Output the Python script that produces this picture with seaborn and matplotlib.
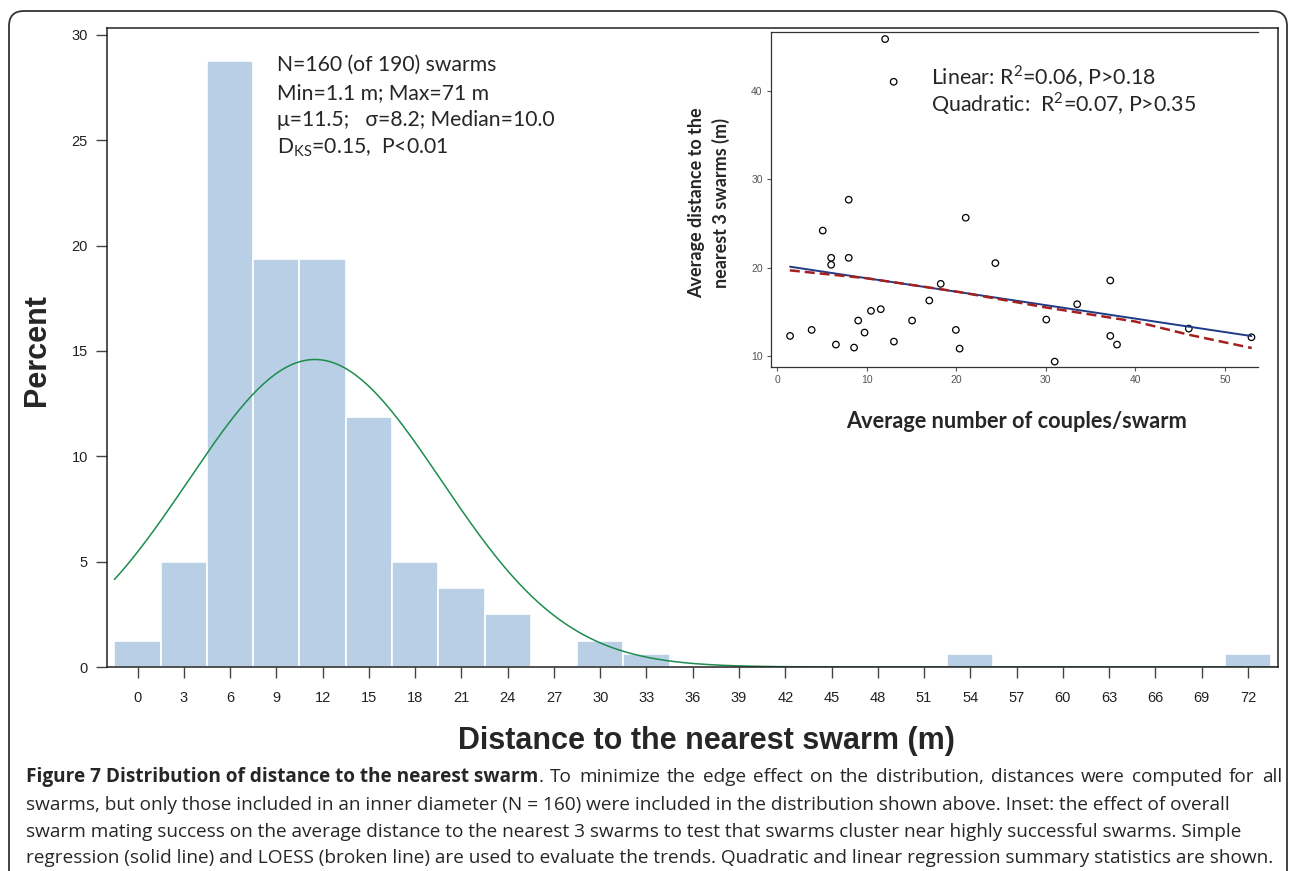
import numpy as np
import pandas as pd
import matplotlib
matplotlib.use('Agg')
import matplotlib.pyplot as plt
import seaborn as sns
from matplotlib.patches import FancyBboxPatch

# histogram of distance to nearest swarm (bin centres in m, % of swarms)
bin_centers = [0, 3, 6, 9, 12, 15, 18, 21, 24, 27, 30, 33, 54, 72]
percent = [1.25, 5.0, 28.75, 19.375, 19.375, 11.875, 5.0, 3.75, 2.5, 0.0, 1.25, 0.625, 0.625, 0.625]
bin_width = 3
mu, sigma = 11.5, 8.2

# inset: couples per swarm vs mean distance to nearest 3 swarms
couples = [12.05, 13.0, 7.98, 5.08, 21.05, 6.02, 7.98, 6.02, 24.36, 37.2, 18.26,
           16.98, 33.5, 11.56, 10.47, 9.04, 15.06, 30.05, 9.75, 3.84, 19.95, 1.43,
           37.2, 45.97, 52.97, 6.55, 13.03, 37.95, 8.58, 20.37, 30.99]
dist3 = [45.9, 41.06, 27.7, 24.2, 25.66, 21.12, 21.12, 20.33, 20.52, 18.55, 18.17,
         16.28, 15.86, 15.30, 15.11, 14.01, 14.01, 14.12, 12.65, 12.95, 12.95, 12.27,
         12.27, 13.10, 12.12, 11.29, 11.63, 11.29, 10.95, 10.83, 9.36]
# loess curve
loess_x = [1.4, 10, 20, 30, 40, 46, 53]
loess_y = [19.7, 18.8, 17.3, 15.5, 13.9, 12.4, 10.9]

W, H = 1290, 871
sns.set_style('white')
plt.rcParams['font.family'] = ['Liberation Sans', 'DejaVu Sans']


def fx(px):
    return px / W


def fy(py):
    return 1 - py / H


fig = plt.figure(figsize=(W / 100, H / 100), dpi=100)

# main histogram
hist_df = pd.DataFrame({'dist': bin_centers, 'pct': percent})
edges = [-1.5 + bin_width * i for i in range(26)]
ax = fig.add_axes([fx(107), fy(667), fx(1278) - fx(107), fy(28) - fy(667)])
sns.histplot(data=hist_df, x='dist', weights='pct', bins=edges,
             color='#b8cfe6', edgecolor='white', linewidth=1.2, alpha=1, ax=ax)

xs = np.linspace(-1.5, 74, 400)
ys = bin_width * 100 * np.exp(-0.5 * ((xs - mu) / sigma) ** 2) / (sigma * np.sqrt(2 * np.pi))
sns.lineplot(x=xs, y=ys, color='#1e8c4e', linewidth=1.1, ax=ax)

ax.set_xlim(-1.98, 73.95)
ax.set_ylim(0, 30.33)
ax.set_xticks(range(0, 73, 3))
ax.set_yticks(range(0, 31, 5))
ax.set_xlabel('')
ax.set_ylabel('')
ax.tick_params(axis='both', bottom=True, left=True, length=8, width=1, color='#444',
               labelsize=10.5, labelcolor='#222')
ax.tick_params(axis='x', pad=9)
ax.tick_params(axis='y', pad=5.8)
for s in ax.spines.values():
    s.set_color('#222')
    s.set_linewidth(1.1)

fig.text(fx(706), fy(749), 'Distance to the nearest swarm (m)', ha='center', va='baseline',
         fontsize=22, fontweight='bold')
fig.text(fx(37), fy(350), 'Percent', ha='center', va='center', rotation=90,
         fontsize=22, fontweight='bold')

calib = ['Lato', 'DejaVu Sans']
stats_lines = ['N=160 (of 190) swarms', 'Min=1.1 m; Max=71 m',
               'μ=11.5;   σ=8.2; Median=10.0', r'D$_\mathregular{KS}$=0.15,  P<0.01']
for i, line in enumerate(stats_lines):
    fig.text(fx(277), fy(65 + 27.7 * i), line, ha='left', va='center',
             fontsize=15.2, family=calib)

# inset
axin = fig.add_axes([fx(771), fy(367), fx(1258) - fx(771), fy(32) - fy(367)])
axin.set_facecolor('white')
sns.scatterplot(x=couples, y=dist3, marker='o', s=22, facecolors='none',
                edgecolor='black', linewidth=0.9, ax=axin)
sns.regplot(x=couples, y=dist3, scatter=False, ci=None, truncate=True,
            color='#1f3b87', line_kws={'linewidth': 1.4}, ax=axin)
sns.lineplot(x=loess_x, y=loess_y, color='#a3201f', linewidth=1.8,
             linestyle=(0, (4, 2)), ax=axin)
axin.set_xlim(-0.7, 53.7)
axin.set_ylim(8.75, 46.7)
axin.set_xticks(range(0, 51, 10))
axin.set_yticks(range(10, 41, 10))
axin.set_xlabel('')
axin.set_ylabel('')
axin.tick_params(axis='both', bottom=True, left=True, length=3, width=0.8, color='#555',
                 labelsize=7.5, labelcolor='#555', pad=3)
axin.spines['right'].set_visible(False)
for s in ['left', 'bottom', 'top']:
    axin.spines[s].set_color('#333')
    axin.spines[s].set_linewidth(0.9)

fig.text(fx(931), fy(77), r'Linear: R$^\mathregular{2}$=0.06, P>0.18', ha='left', va='center',
         fontsize=15.4, family=calib)
fig.text(fx(931), fy(104), r'Quadratic:  R$^\mathregular{2}$=0.07, P>0.35', ha='left', va='center',
         fontsize=15.4, family=calib)
fig.text(fx(709), fy(203), 'Average distance to the\nnearest 3 swarms (m)', ha='center', va='center',
         rotation=90, fontsize=13, fontweight='bold', family=calib, linespacing=1.45)
fig.text(fx(1017), fy(421), 'Average number of couples/swarm', ha='center', va='center',
         fontsize=15.7, fontweight='bold', family=calib)

# caption; first line is justified to the right edge
cap = ['Open Sans', 'DejaVu Sans']
cap_size = 13.7
renderer = fig.canvas.get_renderer()
t = fig.text(fx(26), fy(777), 'Figure 7 Distribution of distance to the nearest swarm',
             ha='left', va='center', fontsize=cap_size, fontweight='bold', family=cap)
x_pos = t.get_window_extent(renderer=renderer).x1
words = ['.'] + 'To minimize the edge effect on the distribution, distances were computed for all'.split(' ')
word_txt = [fig.text(0, fy(777), w, ha='left', va='center', fontsize=cap_size, family=cap) for w in words]
widths = [wt.get_window_extent(renderer=renderer).width for wt in word_txt]
gap = (1282 - x_pos - sum(widths)) / (len(words) - 1)
for i, wt in enumerate(word_txt):
    wt.set_x(x_pos / W)
    x_pos += widths[i] + gap

caption = ['swarms, but only those included in an inner diameter (N = 160) were included in the distribution shown above. Inset: the effect of overall',
           'swarm mating success on the average distance to the nearest 3 swarms to test that swarms cluster near highly successful swarms. Simple',
           'regression (solid line) and LOESS (broken line) are used to evaluate the trends. Quadratic and linear regression summary statistics are shown.']
for i, line in enumerate(caption):
    fig.text(fx(26), fy(805 + 26.5 * i), line, ha='left', va='center', fontsize=cap_size, family=cap)

# rounded frame round the figure
frame = FancyBboxPatch((0.09, -0.3), 12.78, 8.90, boxstyle='round,pad=0,rounding_size=0.15',
                       transform=fig.dpi_scale_trans, fill=False, edgecolor='#333', linewidth=1.3)
fig.add_artist(frame)

plt.savefig('out.png', dpi=100)
